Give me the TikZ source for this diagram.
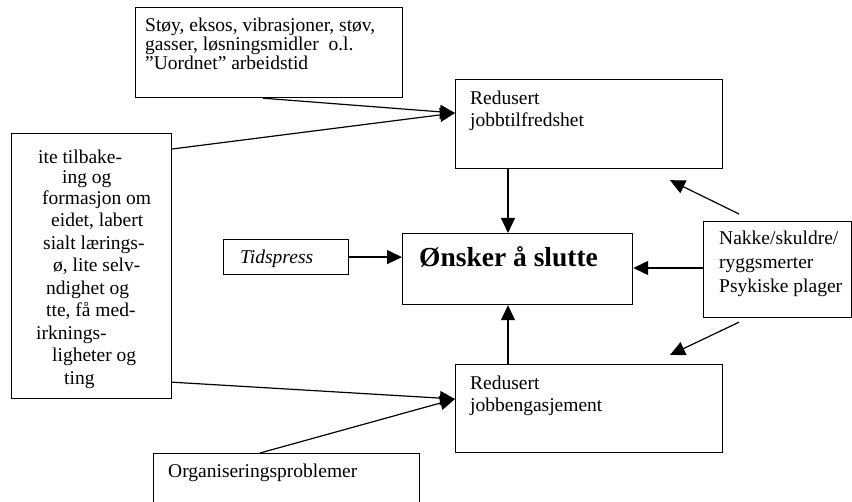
\documentclass[tikz,border=0pt]{standalone}
\usepackage{fontspec}
\setmainfont{Liberation Serif}
\usetikzlibrary{arrows.meta,calc}
\tikzset{
  box/.style={draw,line width=1.2pt,rectangle,inner sep=0pt,anchor=north west},
  txt/.style={inner sep=0pt,anchor=base west,font=\fontsize{19.5}{22}\selectfont},
  conn/.style={line width=1.2pt,-{Triangle[length=15pt,width=14pt]}},
  link/.style={line width=1.2pt}
}
\begin{document}
\begin{tikzpicture}[x=1pt,y=-1pt]
\useasboundingbox (0,0) rectangle (852,502);
\clip (0,0) rectangle (852,502);
% boxes
\node[box,minimum width=267pt,minimum height=90pt] (tb) at (135,7) {};
\node[box,minimum width=267pt,minimum height=89pt] (rj) at (455,79) {};
\node[box,minimum width=230pt,minimum height=71pt] (ons) at (402,233) {};
\node[box,minimum width=160pt,minimum height=265pt] (lb) at (11,133) {};
\node[box,minimum width=125pt,minimum height=35pt] (tid) at (223,239) {};
\node[box,minimum width=148pt,minimum height=96pt] (nak) at (703,221) {};
\node[box,minimum width=267pt,minimum height=88pt] (re) at (455,364) {};
\node[box,minimum width=266pt,minimum height=70pt] (org) at (153,453) {};
% texts
\node[txt] (tb1) at (145,32) {Støy, eksos, vibrasjoner, støv,};
\node[txt] (tb2) at (145,51) {gasser, løsningsmidler\ \ o.l.};
\node[txt] (tb3) at (145,70) {”Uordnet” arbeidstid};
\node[txt] (rj1) at (470,105) {Redusert};
\node[txt] (rj2) at (470,127) {jobbtilfredshet};
\node[txt,font=\fontsize{27.5}{30}\selectfont\bfseries] (ons1) at (419,267) {Ønsker å slutte};
\node[txt,font=\fontsize{19.5}{22}\selectfont\itshape] (tid1) at (240,264) {Tidspress};
\node[txt] (nak1) at (719,245) {Nakke/skuldre/};
\node[txt] (nak2) at (719,269) {ryggsmerter};
\node[txt] (nak3) at (719,293) {Psykiske plager};
\node[txt] (re1) at (470,390) {Redusert};
\node[txt] (re2) at (470,412) {jobbengasjement};
\node[txt] (org1) at (168,478) {Organiseringsproblemer};
\node[txt] (lb1) at (38,164) {ite tilbake-};
\node[txt] (lb2) at (62,184) {ing og};
\node[txt] (lb3) at (42,205) {formasjon om};
\node[txt] (lb4) at (51,227) {eidet, labert};
\node[txt] (lb5) at (43,249.5) {sialt lærings-};
\node[txt] (lb6) at (53,272) {ø, lite selv-};
\node[txt] (lb7) at (46,294.5) {ndighet og};
\node[txt] (lb8) at (46,317) {tte, få med-};
\node[txt] (lb9) at (36,339.5) {irknings-};
\node[txt] (lb10) at (52,362) {ligheter og};
\node[txt] (lb11) at (64,384.5) {ting};
% free ends
\coordinate (nakup) at ($(nak.north west)+(36,-7)$);
\coordinate (nakdn) at ($(nak.south west)+(36,4)$);
\coordinate (rjtip) at ($(rj.south west)+(215,11)$);
\coordinate (retip) at ($(re.north west)+(215,-9)$);
% connectors
\draw[conn] ($(tb.south west)+(128,0)$) -- ($(rj.north west)+(0,34)$);
\draw[conn] ($(lb.north east)+(0,16)$) -- ($(rj.north west)+(0,34)$);
\draw[conn] ($(rj.south west)+(53,0)$) -- ($(ons.north west)+(106,0)$);
\draw[conn] (tid.east) -- (tid.east -| ons.west);
\draw[conn] ($(nak.north west)+(0,47)$) -- ($(ons.north east)+(0,35)$);
\draw[conn] (nakup) -- (rjtip);
\draw[conn] (nakdn) -- (retip);
\draw[conn] ($(re.north west)+(53,0)$) -- ($(ons.south west)+(106,0)$);
\draw[conn] ($(lb.south east)+(0,-17)$) -- ($(re.north west)+(0,35)$);
\draw[conn] ($(org.north west)+(107,0)$) -- ($(re.north west)+(0,35)$);
\end{tikzpicture}
\end{document}
